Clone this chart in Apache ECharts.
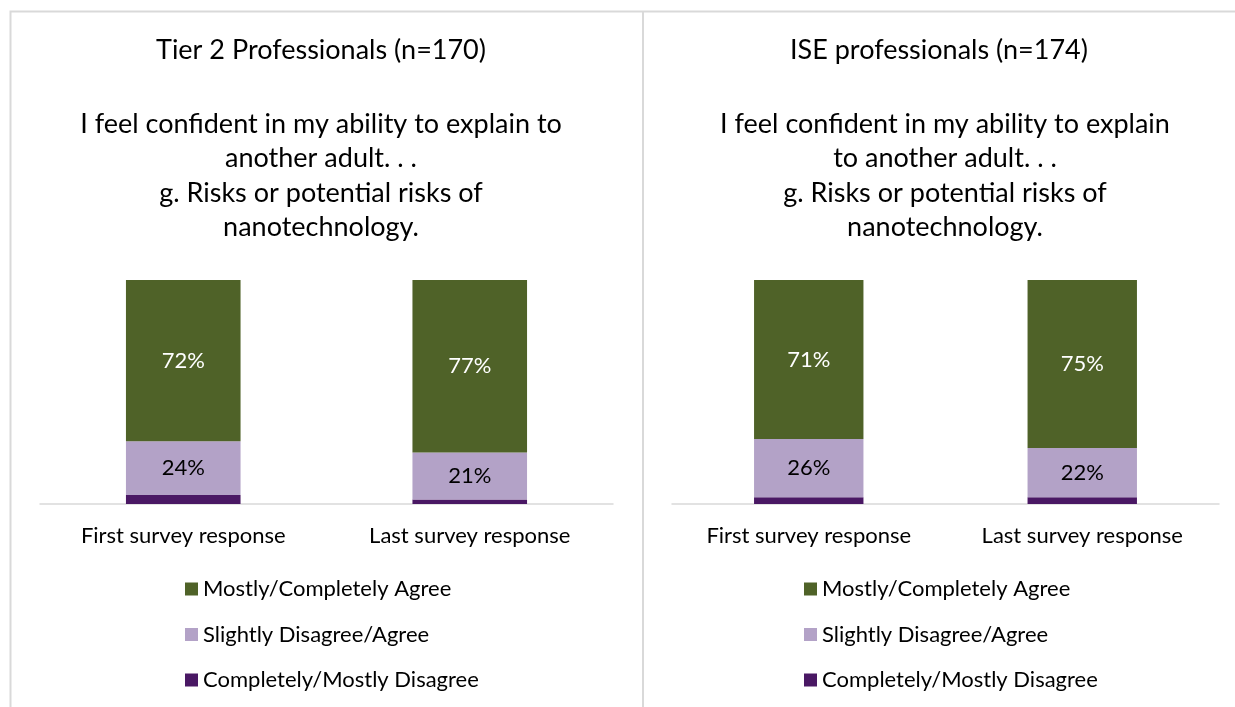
<!DOCTYPE html>
<html>
<head>
<meta charset="utf-8">
<script src="https://cdn.jsdelivr.net/npm/echarts@6/dist/echarts.min.js"></script>
<style>
html,body{margin:0;padding:0;background:#fff;}
#c{width:1235px;height:707px;}
</style>
</head>
<body>
<div id="c"></div>
<script>
const categories = ['First survey response', 'Last survey response'];
const seriesNames = ['Mostly/Completely Agree', 'Slightly Disagree/Agree', 'Completely/Mostly Disagree'];
const tier2Agree = [72, 77];
const tier2Slight = [24, 21];
const tier2Disagree = [4, 2];
const iseAgree = [71, 75];
const iseSlight = [26, 22];
const iseDisagree = [3, 3];
const panelTitles = ['Tier 2 Professionals (n=170)', 'ISE professionals (n=174)'];
const panelSubtitles = [
  'I feel confident in my ability to explain to\nanother adult. . .\ng. Risks or potential risks of\nnanotechnology.',
  'I feel confident in my ability to explain\nto another adult. . .\ng. Risks or potential risks of\nnanotechnology.'
];

const FONT = 'Lato';
const FS = 22;
const TFS = 27;
const colors = ['#4F6228', '#B3A2C7', '#4A1864'];
const textColor = '#000';

function titleItem(text, x, top, lh) {
  return {
    text: text, left: x, top: top, textAlign: 'center', padding: 0,
    textStyle: { fontFamily: FONT, fontSize: TFS, fontWeight: 'normal', color: textColor, lineHeight: lh }
  };
}

function xAx(gi) {
  return {
    type: 'category', gridIndex: gi, data: categories,
    axisTick: { show: false },
    axisLine: { lineStyle: { color: '#d9d9d9', width: 1.5 } },
    axisLabel: { fontFamily: FONT, fontSize: FS, color: textColor, margin: 20, lineHeight: 24 }
  };
}
function yAx(gi) {
  return { type: 'value', gridIndex: gi, min: 0, max: 100, show: false };
}
function bar(name, data, gi, stack, colorIdx, labelColor) {
  return {
    name: name, type: 'bar', stack: stack, xAxisIndex: gi, yAxisIndex: gi,
    data: data, barWidth: '40%',
    itemStyle: { color: colors[colorIdx] },
    label: labelColor ? {
      show: true, position: 'inside', formatter: '{c}%',
      fontFamily: FONT, fontSize: FS, color: labelColor
    } : { show: false },
    emphasis: { disabled: true }
  };
}
function legendAt(x) {
  return {
    orient: 'vertical', left: x, top: 572,
    data: seriesNames,
    icon: 'rect', itemWidth: 13, itemHeight: 13, itemGap: 21.5,
    textStyle: { fontFamily: FONT, fontSize: FS, color: textColor, lineHeight: 24 },
    selectedMode: false
  };
}

const chart = echarts.init(document.getElementById('c'), null, { renderer: 'canvas' });
chart.setOption({
  backgroundColor: '#fff',
  animation: false,
  title: [
    titleItem(panelTitles[0], 321, 34, 32),
    titleItem(panelSubtitles[0], 321, 107, 34.5),
    titleItem(panelTitles[1], 939, 34, 32),
    titleItem(panelSubtitles[1], 945, 107, 34.5)
  ],
  grid: [
    { left: 40, width: 573, top: 280, height: 224 },
    { left: 672, width: 547, top: 280, height: 224 }
  ],
  xAxis: [xAx(0), xAx(1)],
  yAxis: [yAx(0), yAx(1)],
  legend: [legendAt(180), legendAt(799)],
  series: [
    bar(seriesNames[2], tier2Disagree, 0, 'L', 2, null),
    bar(seriesNames[1], tier2Slight, 0, 'L', 1, '#000'),
    bar(seriesNames[0], tier2Agree, 0, 'L', 0, '#fff'),
    bar(seriesNames[2], iseDisagree, 1, 'R', 2, null),
    bar(seriesNames[1], iseSlight, 1, 'R', 1, '#000'),
    bar(seriesNames[0], iseAgree, 1, 'R', 0, '#fff')
  ],
  graphic: [
    { type: 'polyline', silent: true, shape: { points: [[10.5, 707], [10.5, 11.5], [1235, 11.5]] },
      style: { stroke: '#d9d9d9', lineWidth: 2, fill: null } },
    { type: 'line', silent: true, shape: { x1: 643, y1: 11.5, x2: 643, y2: 707 },
      style: { stroke: '#d9d9d9', lineWidth: 2 } }
  ]
});
</script>
</body>
</html>
